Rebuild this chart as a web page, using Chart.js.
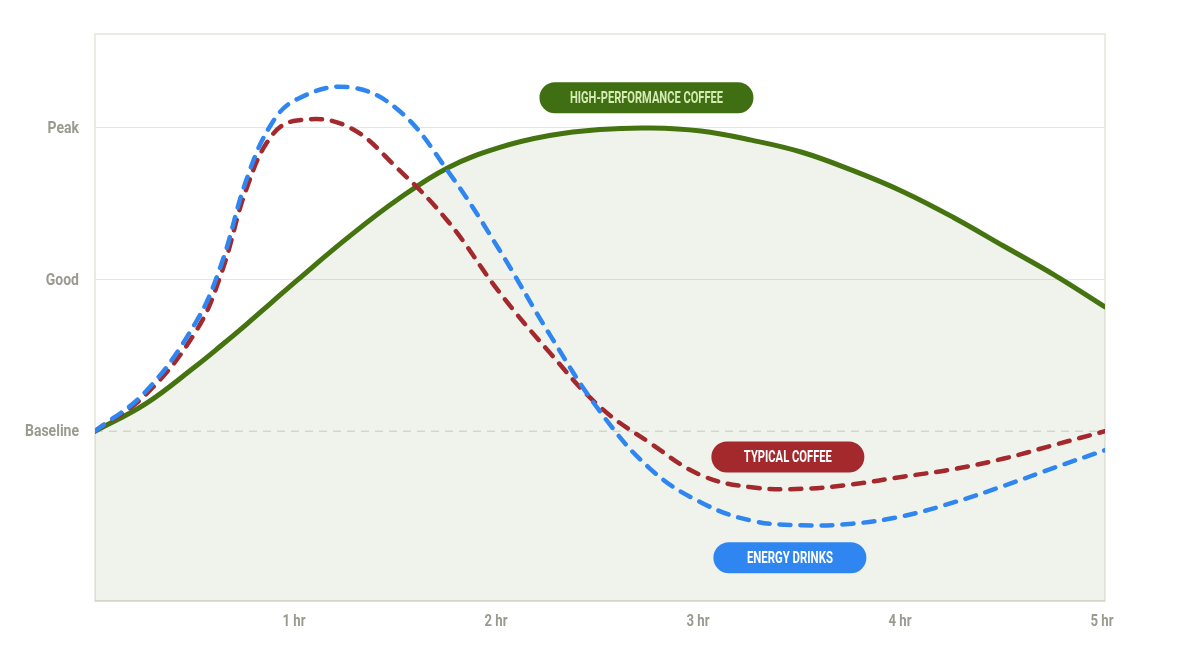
<!DOCTYPE html>
<html>
<head>
<meta charset="utf-8">
<script src="https://cdn.jsdelivr.net/npm/chart.js@4.4.1/dist/chart.umd.min.js"></script>
<style>
  html, body { margin: 0; padding: 0; background: #fff; }
</style>
</head>
<body>
<canvas id="energyChart" width="1200" height="656"></canvas>
<script>
// --- data (hours after drinking, energy level: 0 = baseline, 1 = good, 2 = peak) ---
const hours = [0, 0.25, 0.5, 0.625, 0.75, 0.875, 1, 1.25, 1.5, 1.75, 2, 2.25, 2.5, 2.75, 3, 3.25, 3.5, 3.75, 4, 4.25, 4.5, 4.75, 5];
const highPerformance = [0, 0.18, 0.43, 0.565, 0.705, 0.85, 0.995, 1.275, 1.53, 1.74, 1.87, 1.95, 1.99, 2.0, 1.98, 1.92, 1.84, 1.72, 1.58, 1.41, 1.22, 1.03, 0.82];
const typicalCoffee = [0, 0.24, 0.66, 1.04, 1.60, 1.95, 2.05, 2.01, 1.73, 1.38, 0.92, 0.52, 0.16, -0.08, -0.29, -0.37, -0.38, -0.35, -0.30, -0.25, -0.18, -0.09, 0];
const energyDrinks = [0, 0.26, 0.72, 1.10, 1.66, 2.03, 2.19, 2.27, 2.12, 1.71, 1.20, 0.64, 0.13, -0.25, -0.47, -0.59, -0.62, -0.61, -0.56, -0.47, -0.36, -0.24, -0.125];

const levelLabels = ['Baseline', 'Good', 'Peak'];
const hourLabels = ['1 hr', '2 hr', '3 hr', '4 hr', '5 hr'];

// pill labels, anchored in data units
const pills = [
    { text: 'HIGH-PERFORMANCE COFFEE', x: 2.73, y: 2.2, w: 214, textW: 153, bg: '#3f6f12', fg: '#d6eab4' },
    { text: 'TYPICAL COFFEE', x: 3.43, y: -0.17, w: 153, textW: 88, bg: '#a3292d', fg: '#ffffff' },
    { text: 'ENERGY DRINKS', x: 3.44, y: -0.835, w: 153, textW: 86, bg: '#2f86f0', fg: '#ffffff' },
];

const FONT = "'Roboto', 'Noto Sans', sans-serif";
const TICK_COLOR = '#9a9a8f';
const toPoints = (vals) => vals.map((v, i) => ({ x: hours[i], y: v }));

// draw text squeezed horizontally (the original uses a condensed face)
const squeezedText = (ctx, text, x, y, sx, align) => {
    ctx.save();
    ctx.translate(x, y);
    ctx.scale(sx, 1);
    ctx.textAlign = align;
    ctx.fillText(text, 0, 0);
    ctx.restore();
};

// frame, dashed baseline, condensed tick labels and pills
const decorPlugin = {
    id: 'decor',
    beforeDatasetsDraw(chart) {
        const { ctx, chartArea: a, scales } = chart;
        ctx.save();
        ctx.strokeStyle = '#e4e5dc';
        ctx.lineWidth = 1.5;
        ctx.strokeRect(a.left, a.top, a.right - a.left, a.bottom - a.top);
        ctx.strokeStyle = '#dadccf';
        ctx.beginPath();
        ctx.moveTo(a.left, a.bottom);
        ctx.lineTo(a.right, a.bottom);
        ctx.stroke();
        const yb = scales.y.getPixelForValue(0);
        ctx.strokeStyle = '#cfcfc5';
        ctx.lineWidth = 1;
        ctx.setLineDash([8, 6]);
        ctx.beginPath();
        ctx.moveTo(a.left, yb);
        ctx.lineTo(a.right, yb);
        ctx.stroke();
        ctx.restore();
    },
    afterDatasetsDraw(chart) {
        const { ctx, scales, chartArea: a } = chart;

        // tick labels
        ctx.save();
        ctx.fillStyle = TICK_COLOR;
        ctx.textBaseline = 'middle';
        ctx.font = 'bold 17px ' + FONT;
        const sy = 54 / ctx.measureText('Baseline').width;
        levelLabels.forEach((t, i) => {
            squeezedText(ctx, t, a.left - 16, scales.y.getPixelForValue(i) + 1, sy, 'right');
        });
        const sx = 23 / ctx.measureText('1 hr').width;
        hourLabels.forEach((t, i) => {
            squeezedText(ctx, t, scales.x.getPixelForValue(i + 1) - 3, a.bottom + 21, sx, 'center');
        });
        ctx.restore();

        const h = 31;
        pills.forEach(p => {
            const cx = scales.x.getPixelForValue(p.x);
            const cy = scales.y.getPixelForValue(p.y);
            ctx.save();
            ctx.fillStyle = p.bg;
            ctx.beginPath();
            ctx.roundRect(cx - p.w / 2, cy - h / 2, p.w, h, h / 2);
            ctx.fill();
            ctx.font = 'bold 16px ' + FONT;
            ctx.fillStyle = p.fg;
            ctx.textBaseline = 'middle';
            const m = ctx.measureText(p.text).width;
            squeezedText(ctx, p.text, cx, cy + 1, p.textW / m, 'center');
            ctx.restore();
        });
    }
};

const lineStyle = {
    fill: false,
    pointRadius: 0,
    tension: 0.4,
    borderCapStyle: 'round',
};

new Chart(document.getElementById('energyChart'), {
    type: 'line',
    data: {
        datasets: [
            {
                ...lineStyle,
                label: 'Energy Drinks',
                data: toPoints(energyDrinks),
                borderColor: '#2f86f0',
                borderWidth: 4.5,
                borderDash: [11, 10],
            },
            {
                ...lineStyle,
                label: 'Typical Coffee',
                data: toPoints(typicalCoffee),
                borderColor: '#a3292d',
                borderWidth: 4.5,
                borderDash: [11, 10],
            },
            {
                ...lineStyle,
                label: 'High-Performance Coffee',
                data: toPoints(highPerformance),
                borderColor: '#44730f',
                borderWidth: 5,
                fill: 'start',
                backgroundColor: 'rgba(105, 135, 65, 0.1)',
            },
        ]
    },
    options: {
        responsive: false,
        animation: false,
        layout: { padding: { top: 34, right: 95, left: 0, bottom: 0 } },
        plugins: {
            legend: { display: false },
            tooltip: { enabled: false },
        },
        scales: {
            x: {
                type: 'linear',
                min: 0,
                max: 5,
                afterFit: (s) => { s.height = 55; },
                afterBuildTicks: (s) => { s.ticks = hourLabels.map((_, i) => ({ value: i + 1 })); },
                ticks: { display: false },
                grid: { display: false },
                border: { display: false },
            },
            y: {
                min: -1.12,
                max: 2.62,
                afterFit: (s) => { s.width = 95; },
                afterBuildTicks: (s) => { s.ticks = levelLabels.map((_, i) => ({ value: i })); },
                ticks: { display: false },
                grid: {
                    drawTicks: false,
                    color: (c) => c.tick && c.tick.value === 0 ? 'rgba(0,0,0,0)' : '#e6e6df',
                    lineWidth: 1,
                },
                border: { display: false },
            }
        }
    },
    plugins: [decorPlugin]
});
</script>
</body>
</html>
